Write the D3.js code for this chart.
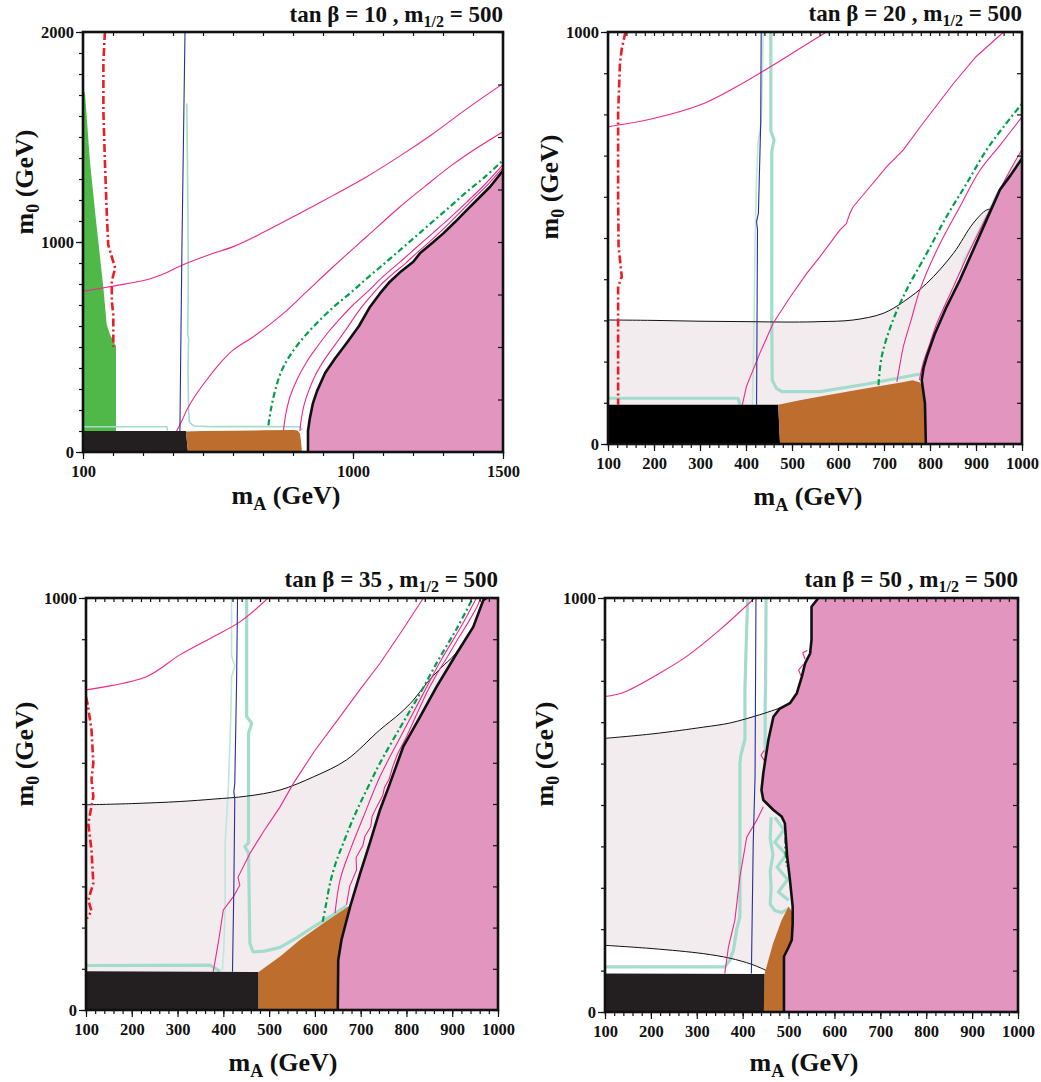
<!DOCTYPE html>
<html>
<head>
<meta charset="utf-8">
<script src="https://cdn.jsdelivr.net/npm/d3@7"></script>
<style>
  html, body { margin: 0; padding: 0; background: #fff; }
  svg { display: block; }
  text { font-family: "Liberation Serif", "Times New Roman", serif; font-weight: bold; fill: #111; }
</style>
</head>
<body>
<svg id="chart" width="1041" height="1082"></svg>
<script>
// ---------- parameters of the four scans ----------
const tanBeta = [10, 20, 35, 50];
const mHalf = 500;

// ---------- tick labels ----------
const p1XLabels = [100, 1000, 1500];
const p1YLabels = [0, 1000, 2000];
const xLabels = [100, 200, 300, 400, 500, 600, 700, 800, 900, 1000];
const yLabels = [0, 1000];

// ---------- tan β = 10 (m_A, m_0) ----------
const p1Black = [[100,0],[450,0],[443,100],[100,100]];
const p1Brown = [[450,0],[443,98],[500,100],[600,101],[700,103],[801,105],[815,102],[823,88],[826,60],[830,0]];
const p1PinkEdge = [[850,0],[850,100],[856,160],[866,230],[880,290],[907,376],[940,445],[979,519],[1020,600],[1057,692],[1090,755],[1123,811],[1160,860],[1201,906],[1223,946],[1262,993],[1301,1041],[1340,1095],[1379,1152],[1418,1207],[1457,1263],[1500,1340]];
const p1GreenArea = [[100,100],[100,1700],[103,1725],[107,1702],[123,1384],[146,1067],[168,781],[179,606],[190,559],[210,503],[210,100]];
const p1Red = [[173,2000],[168,1860],[168,1622],[173,1384],[179,1146],[184,987],[207,876],[196,813],[196,718],[201,654],[201,500]];
const p1Blue = [[440,2000],[435,1500],[430,1000],[426,500],[423,100]];
const p1TealThin = [
  [[100,120],[379,120],[382,102]],
  [[446,1660],[448,1400],[450,1100],[451,800],[449,560],[452,540],[450,400],[452,200],[455,140],[470,124],[520,121],[700,121],[823,120],[830,105]]
];
const p1TealThick = [];
const p1Magenta = [
  [[100,765],[200,790],[312,820],[380,855],[423,885],[523,940],[601,978],[700,1045],[823,1137],[934,1222],[1046,1311],[1157,1410],[1268,1517],[1380,1635],[1500,1754]],
  [[412,100],[430,150],[446,200],[475,270],[512,343],[555,420],[601,486],[668,549],[768,660],[850,770],[934,882],[1045,1025],[1157,1168],[1240,1265],[1323,1359],[1410,1445],[1500,1525]],
  [[768,100],[776,180],[790,263],[815,350],[846,430],[880,500],[920,575],[960,640],[1000,700],[1046,760],[1100,835],[1157,905],[1212,975],[1268,1045],[1323,1115],[1379,1190],[1440,1275],[1500,1368]],
  [[823,100],[828,160],[838,230],[852,290],[876,370],[905,440],[940,510],[980,590],[1018,670],[1055,735],[1092,795],[1130,845],[1172,895],[1210,945],[1250,995],[1290,1047],[1330,1102],[1370,1160],[1410,1218],[1455,1282],[1500,1355]]
];
const p1GreenLine = [[718,127],[726,200],[740,290],[760,380],[790,460],[835,545],[879,613],[935,690],[990,756],[1045,825],[1101,893],[1157,962],[1212,1030],[1268,1100],[1323,1168],[1380,1240],[1440,1310],[1500,1390]];

// ---------- tan β = 20 ----------
const p2Black = [[100,0],[474,0],[470,95],[100,95]];
const p2Brown = [[474,0],[470,95],[517,106],[561,115],[650,133],[740,150],[762,155],[777,150],[785,140],[800,0]];
const p2PinkEdge = [[791,0],[789,99],[782,155],[786,185],[793,212],[811,269],[836,333],[865,398],[894,471],[923,544],[952,617],[975,652],[1000,693]];
const p2GreyEdge = [[100,301],[200,300],[300,298],[400,297],[500,296],[561,297],[633,301],[698,317],[742,345],[793,390],[851,463],[894,536],[923,568],[935,570]];
const p2Red = [[138,1000],[130,960],[126,924],[122,803],[122,600],[123,479],[130,406],[122,382],[122,95]];
const p2Blue = [[433,1000],[432,780],[427,560],[423,540],[425,520],[423,95]];
const p2TealThin = [
  [[437,1000],[436,900],[433,780],[426,729],[423,650],[420,500],[418,350],[416,200],[414,95]],
  [[785,172],[805,220],[822,260],[840,300],[851,341],[865,390],[872,447],[890,480],[909,527],[925,560],[945,608],[970,650],[1000,704]]
];
const p2TealThick = [
  [[100,111],[383,111],[387,95]],
  [[454,1000],[454,760],[461,738],[456,710],[456,500],[456,300],[457,155],[466,135],[478,127],[561,127],[660,145],[778,170]]
];
const p2Magenta = [
  [[100,770],[198,790],[307,826],[379,867],[452,915],[510,955],[575,1000]],
  [[392,95],[401,140],[430,220],[459,293],[495,355],[532,414],[561,455],[604,519],[618,535],[626,560],[633,576],[670,625],[706,673],[742,714],[779,770],[851,875],[900,940],[960,1000]],
  [[728,151],[735,195],[742,236],[760,305],[778,374],[815,471],[865,576],[909,665],[952,725],[1000,794]],
  [[777,155],[785,196],[800,245],[815,293],[851,382],[887,471],[923,552],[959,633],[1000,715]]
];
const p2GreenLine = [[688,143],[695,212],[717,293],[749,374],[793,463],[836,552],[880,633],[923,714],[960,770],[1000,826]];

// ---------- tan β = 35 ----------
const p3Black = [[100,0],[477,0],[477,92],[100,94]];
const p3Brown = [[477,0],[477,92],[524,130],[567,170],[620,212],[673,251],[700,251],[700,0]];
const p3PinkEdge = [[650,0],[651,121],[658,170],[677,251],[699,332],[720,405],[742,485],[764,550],[793,639],[830,712],[866,785],[910,866],[946,930],[968,995],[975,1000]];
const p3GreyEdge = [[100,498],[200,501],[305,506],[380,512],[451,519],[524,534],[597,566],[669,607],[742,680],[786,720],[815,752],[844,793],[875,830],[905,862],[935,910],[958,960],[972,1000]];
const p3Red = [[100,760],[104,740],[112,680],[116,599],[112,560],[116,518],[105,453],[112,388],[116,308],[105,267],[112,240],[102,222]];
const p3Blue = [[431,1000],[429,800],[425,550],[423,530],[425,510],[423,300],[420,93]];
const p3TealThin = [
  [[418,1000],[418,860],[425,835],[418,809],[416,700],[411,542],[404,405],[404,250],[401,150],[398,97]]
];
const p3TealThick = [
  [[100,108],[371,109],[393,94]],
  [[451,1000],[451,712],[462,696],[455,672],[455,405],[447,397],[455,381],[458,162],[465,141],[490,143],[524,152],[560,175],[597,202],[635,228],[669,253]]
];
const p3Magenta = [
  [[100,777],[232,809],[305,862],[378,906],[436,942],[498,1000]],
  [[378,93],[390,170],[400,243],[422,275],[436,303],[432,322],[458,380],[490,437],[524,493],[553,550],[600,630],[655,712],[700,780],[742,841],[790,920],[837,1000]],
  [[644,235],[655,316],[677,388],[706,469],[742,566],[788,665],[833,760],[876,850],[919,930],[953,1000]],
  [[669,255],[676,300],[691,340],[690,370],[705,400],[709,421],[722,445],[725,470],[735,493],[748,520],[752,540],[762,560],[770,590],[780,620],[800,663],[820,712],[844,770],[866,815],[890,858],[912,900],[934,939],[955,980],[962,1000]]
];
const p3GreenLine = [[617,214],[625,260],[633,307],[645,355],[662,405],[680,455],[699,502],[720,550],[742,599],[786,685],[828,765],[870,850],[912,930],[945,1000]];

// ---------- tan β = 50 ----------
const p4Black = [[100,0],[448,0],[448,92],[100,93]];
const p4Brown = [[446,0],[448,93],[466,165],[485,222],[500,255],[515,230],[515,0]];
const p4PinkEdge = [[490,0],[490,134],[499,154],[507,174],[509,214],[509,254],[503,319],[497,375],[492,456],[485,472],[467,488],[445,512],[441,536],[445,577],[456,657],[467,713],[481,733],[503,746],[518,770],[529,810],[536,842],[547,866],[550,899],[550,979],[565,1000]];
const p4GreyEdge = [[100,661],[205,672],[314,688],[372,698],[437,718],[470,730],[485,736]];
const p4GreyFloor = [[100,161],[205,153],[314,141],[372,130],[420,115],[452,100]];
const p4Blue = [[429,1000],[427,569],[423,407],[419,93]];
const p4TealThin = [];
const p4TealThick = [
  [[411,1000],[408,900],[405,780],[405,660],[396,620],[394,600],[394,400],[394,230],[387,200],[380,150],[372,125],[361,109],[100,109]],
  [[451,1000],[450,800],[449,740],[449,641],[452,615]],
  [[462,470],[460,420],[466,380],[460,340],[462,300],[460,260],[470,245],[485,240],[500,250]],
  [[470,470],[490,440],[470,410],[495,380],[475,350],[498,320],[478,290],[500,270]]
];
const p4Magenta = [
  [[100,762],[140,772],[220,819],[278,859],[350,923],[426,1000]],
  [[361,93],[369,157],[383,222],[394,327],[409,423],[431,464],[445,496]],
  [[447,632],[440,620],[448,606]],
  [[527,812],[522,826],[532,840]],
  [[536,852],[531,868],[541,873]]
];
const p4GreenLine = [[495,455],[493,400],[496,352]];

// ---------- colours ----------
const C = {
  pink: "#e295bf", brown: "#bd6e2e", grey: "#f2ecee", black: "#231f20",
  greenArea: "#50b848", teal: "#a3dccd", tealLight: "#bfe6dc",
  magenta: "#f0288c", blue: "#2b2f8f", red: "#ed1c24", green: "#00a04b"
};

// ---------- panel layout ----------
const panels = [
  { box: {l: 83, t: 32, r: 503, b: 452}, xd: [100, 1500], yd: [0, 2000],
    xMinor: d3.range(100, 1501, 100), xMajor: p1XLabels, yMinorL: d3.range(0, 2001, 100), yMinorR: d3.range(0, 2001, 250), yMajor: p1YLabels,
    black: p1Black, blackFill: C.black, brown: p1Brown, pinkEdge: p1PinkEdge, greenArea: p1GreenArea,
    red: p1Red, blue: p1Blue, tealThin: p1TealThin, tealThick: p1TealThick, magenta: p1Magenta, jagged: [], greenLine: p1GreenLine,
    title: {x: 503, y: 22}, ylab: {x: 33, y: 182}, xlab: {x: 286, y: 504}, tanB: tanBeta[0] },
  { box: {l: 608, t: 32, r: 1022, b: 444}, xd: [100, 1000], yd: [0, 1000],
    xMinor: d3.range(100, 1001, 20), xMajor: xLabels, yMinorL: d3.range(0, 1001, 100), yMinorR: d3.range(0, 1001, 100), yMajor: yLabels,
    black: p2Black, blackFill: "#000", brown: p2Brown, pinkEdge: p2PinkEdge, greyEdge: p2GreyEdge,
    red: p2Red, blue: p2Blue, tealThin: p2TealThin, tealThick: p2TealThick, magenta: p2Magenta, jagged: [1], greenLine: p2GreenLine,
    title: {x: 1022, y: 21}, ylab: {x: 558, y: 187}, xlab: {x: 808, y: 505}, tanB: tanBeta[1] },
  { box: {l: 86, t: 598, r: 498, b: 1010}, xd: [100, 1000], yd: [0, 1000],
    xMinor: d3.range(100, 1001, 20), xMajor: xLabels, yMinorL: d3.range(0, 1001, 100), yMinorR: d3.range(0, 1001, 100), yMajor: yLabels,
    black: p3Black, blackFill: C.black, brown: p3Brown, pinkEdge: p3PinkEdge, greyEdge: p3GreyEdge,
    red: p3Red, blue: p3Blue, tealThin: p3TealThin, tealThick: p3TealThick, magenta: p3Magenta, jagged: [1, 3], greenLine: p3GreenLine,
    title: {x: 498, y: 587}, ylab: {x: 33, y: 754}, xlab: {x: 283, y: 1071}, tanB: tanBeta[2] },
  { box: {l: 605, t: 598, r: 1018, b: 1012}, xd: [100, 1000], yd: [0, 1000],
    xMinor: d3.range(100, 1001, 20), xMajor: xLabels, yMinorL: d3.range(0, 1001, 100), yMinorR: d3.range(0, 1001, 100), yMajor: yLabels,
    black: p4Black, blackFill: C.black, brown: p4Brown, pinkEdge: p4PinkEdge, greyEdge: p4GreyEdge, greyFloor: p4GreyFloor,
    blue: p4Blue, tealThin: p4TealThin, tealThick: p4TealThick, magenta: p4Magenta, jagged: [1, 2, 3, 4], greenLine: p4GreenLine,
    title: {x: 1018, y: 587}, ylab: {x: 553, y: 754}, xlab: {x: 804, y: 1071}, tanB: tanBeta[3] }
];

const svg = d3.select("#chart");

panels.forEach((p, i) => {
  const b = p.box;
  const x = d3.scaleLinear().domain(p.xd).range([b.l, b.r]);
  const y = d3.scaleLinear().domain(p.yd).range([b.b, b.t]);
  const line = d3.line().x(d => x(d[0])).y(d => y(d[1]));
  const smooth = d3.line().x(d => x(d[0])).y(d => y(d[1])).curve(d3.curveCatmullRom);
  const [xMin, xMax] = p.xd;

  const clipId = "clip" + i;
  svg.append("clipPath").attr("id", clipId)
    .append("rect").attr("x", b.l).attr("y", b.t).attr("width", b.r - b.l).attr("height", b.b - b.t);
  const g = svg.append("g").attr("clip-path", `url(#${clipId})`);

  // light region under the thin black contour
  if (p.greyEdge) {
    const last = p.greyEdge[p.greyEdge.length - 1];
    let poly = p.greyEdge.concat([[xMax, last[1]], [xMax, 0]]);
    if (p.greyFloor) {
      const f = p.greyFloor;
      poly = poly.concat([[f[f.length - 1][0], 0]], f.slice().reverse());
    } else {
      poly = poly.concat([[xMin, 0]]);
    }
    g.append("path").attr("d", line(poly) + "Z").attr("fill", C.grey);
  }
  if (p.greenArea) {
    g.append("path").attr("d", line(p.greenArea) + "Z").attr("fill", C.greenArea);
  }

  // contour lines
  (p.tealThin || []).forEach(t => g.append("path").attr("d", line(t))
    .attr("fill", "none").attr("stroke", i === 0 ? C.teal : C.tealLight).attr("stroke-width", 1.6));
  (p.tealThick || []).forEach(t => g.append("path").attr("d", line(t))
    .attr("fill", "none").attr("stroke", C.teal).attr("stroke-width", 3.2).attr("stroke-linejoin", "round"));
  [p.greyEdge, p.greyFloor].filter(Boolean).forEach(c => g.append("path").attr("d", smooth(c))
    .attr("fill", "none").attr("stroke", "#111").attr("stroke-width", 1));
  p.magenta.forEach((m, k) => g.append("path").attr("d", p.jagged.includes(k) ? line(m) : smooth(m))
    .attr("fill", "none").attr("stroke", C.magenta).attr("stroke-width", 1.1));
  if (p.blue) g.append("path").attr("d", line(p.blue)).attr("fill", "none").attr("stroke", C.blue).attr("stroke-width", 1.1);
  if (p.red) g.append("path").attr("d", line(p.red)).attr("fill", "none").attr("stroke", C.red)
    .attr("stroke-width", 2.6).attr("stroke-dasharray", "8,3,2,3");
  if (p.greenLine) g.append("path").attr("d", smooth(p.greenLine)).attr("fill", "none").attr("stroke", C.green)
    .attr("stroke-width", 2.2).attr("stroke-dasharray", "6,3,2,3");

  // excluded regions
  g.append("path").attr("d", line(p.black) + "Z").attr("fill", p.blackFill);
  g.append("path").attr("d", line(p.brown) + "Z").attr("fill", C.brown);
  const pe = p.pinkEdge, pl = pe[pe.length - 1];
  g.append("path").attr("d", line(pe.concat([[xMax, pl[1]], [xMax, 0]])) + "Z").attr("fill", C.pink);
  g.append("path").attr("d", line(pe)).attr("fill", "none").attr("stroke", "#111").attr("stroke-width", 2.6)
    .attr("stroke-linejoin", "round");

  // axes
  const ax = svg.append("g").attr("class", "axes");
  const tickStyle = sel => { sel.select(".domain").remove(); sel.selectAll("line").attr("stroke", "#111").attr("stroke-width", 1.2); };
  ax.append("g").attr("transform", `translate(0,${b.b})`)
    .call(d3.axisBottom(x).tickValues(p.xMinor).tickSize(4).tickFormat("")).call(tickStyle);
  ax.append("g").attr("transform", `translate(0,${b.b})`)
    .call(d3.axisBottom(x).tickValues(p.xMajor).tickSize(7).tickPadding(6).tickFormat(d3.format("d"))).call(tickStyle);
  ax.append("g").attr("transform", `translate(0,${b.t})`)
    .call(d3.axisTop(x).tickValues(p.xMinor).tickSize(-4).tickFormat("")).call(tickStyle);
  ax.append("g").attr("transform", `translate(${b.l},0)`)
    .call(d3.axisLeft(y).tickValues(p.yMinorL).tickSize(4).tickFormat("")).call(tickStyle);
  ax.append("g").attr("transform", `translate(${b.l},0)`)
    .call(d3.axisLeft(y).tickValues(p.yMajor).tickSize(7).tickPadding(2).tickFormat(d3.format("d"))).call(tickStyle);
  ax.append("g").attr("transform", `translate(${b.r},0)`)
    .call(d3.axisRight(y).tickValues(p.yMinorR).tickSize(-5).tickFormat("")).call(tickStyle);
  ax.selectAll("text").attr("font-family", "Liberation Serif, serif").attr("font-weight", "bold")
    .attr("font-size", 16.5).attr("fill", "#111");

  svg.append("rect").attr("x", b.l).attr("y", b.t).attr("width", b.r - b.l).attr("height", b.b - b.t)
    .attr("fill", "none").attr("stroke", "#111").attr("stroke-width", 2.6);

  // title
  const tt = svg.append("text").attr("x", p.title.x).attr("y", p.title.y)
    .attr("text-anchor", "end").attr("font-size", 23);
  tt.append("tspan").text(`tan β = ${p.tanB} , m`);
  tt.append("tspan").attr("font-size", 16).attr("dy", 5).text("1/2");
  tt.append("tspan").attr("dy", -5).text(` = ${mHalf}`);

  // axis titles
  const yl = svg.append("text").attr("transform", `translate(${p.ylab.x},${p.ylab.y}) rotate(-90)`)
    .attr("text-anchor", "middle").attr("font-size", 26);
  yl.append("tspan").text("m");
  yl.append("tspan").attr("font-size", 18).attr("dy", 6).text("0");
  yl.append("tspan").attr("dy", -6).text(" (GeV)");

  const xl = svg.append("text").attr("x", p.xlab.x).attr("y", p.xlab.y)
    .attr("text-anchor", "middle").attr("font-size", 26);
  xl.append("tspan").text("m");
  xl.append("tspan").attr("font-size", 18).attr("dy", 6).text("A");
  xl.append("tspan").attr("dy", -6).text(" (GeV)");
});
</script>
</body>
</html>
